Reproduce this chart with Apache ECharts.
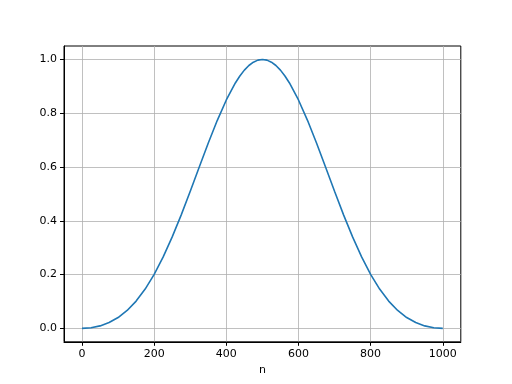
<!DOCTYPE html>
<html>
<head>
<meta charset="utf-8">
<script src="https://cdn.jsdelivr.net/npm/echarts@6/dist/echarts.min.js"></script>
<style>html,body{margin:0;padding:0;background:#fff;}#c{width:512px;height:384px;}</style>
</head>
<body>
<div id="c"></div>
<script>
const nValues = [0,25,50,75,100,125,150,175,200,225,250,275,300,325,350,375,400,425,437.5,450,462.5,475,487.5,500,
  512.5,525,537.5,550,562.5,575,600,625,650,675,700,725,750,775,800,825,850,875,900,925,950,975,1000];
const wValues = [0,0.0022,0.0092,0.0215,0.0402,0.0665,0.1014,0.1460,0.2008,0.2657,0.3400,0.4221,0.5098,0.6000,0.6892,0.7736,0.8492,0.9125,0.9385,0.9603,0.9775,0.9899,0.9975,1.0,
  0.9975,0.9899,0.9775,0.9603,0.9385,0.9125,0.8492,0.7736,0.6892,0.6000,0.5098,0.4221,0.3400,0.2657,0.2008,0.1460,0.1014,0.0665,0.0402,0.0215,0.0092,0.0022,0];
const xTicks = [0,200,400,600,800,1000];
const yTicks = [0,0.2,0.4,0.6,0.8,1.0];
const xName = 'n';

const chart = echarts.init(document.getElementById('c'), null, {renderer:'canvas'});
const font = 'DejaVu Sans';
chart.setOption({
  animation:false,
  grid:{left:64,right:51.2,top:46,bottom:42.2,show:true,borderColor:'#000',borderWidth:1,backgroundColor:'transparent'},
  xAxis:{type:'value',min:-50,max:1050,name:xName,nameLocation:'middle',nameGap:22,
    nameTextStyle:{color:'#000',fontFamily:font,fontSize:11},
    axisLine:{show:true,onZero:false,lineStyle:{color:'#000',width:1}},
    axisTick:{show:true,inside:false,length:4,customValues:xTicks,lineStyle:{color:'#000',width:1}},
    axisLabel:{customValues:xTicks,color:'#000',fontFamily:font,fontSize:11,margin:7,formatter:v=>String(Math.round(v))},
    splitLine:{show:true,lineStyle:{color:'#b0b0b0',width:0.8}}},
  yAxis:{type:'value',min:-0.05,max:1.05,
    axisLine:{show:true,onZero:false,lineStyle:{color:'#000',width:1}},
    axisTick:{show:true,inside:false,length:4,customValues:yTicks,lineStyle:{color:'#000',width:1}},
    axisLabel:{customValues:yTicks,color:'#000',fontFamily:font,fontSize:11,margin:7,formatter:v=>v.toFixed(1)},
    splitLine:{show:true,lineStyle:{color:'#b0b0b0',width:0.8}}},
  series:[{type:'line',data:nValues.map((x,i)=>[x,wValues[i]]),showSymbol:false,smooth:false,
    lineStyle:{color:'#1f77b4',width:1.6},itemStyle:{color:'#1f77b4'}}]
});
</script>
</body>
</html>
